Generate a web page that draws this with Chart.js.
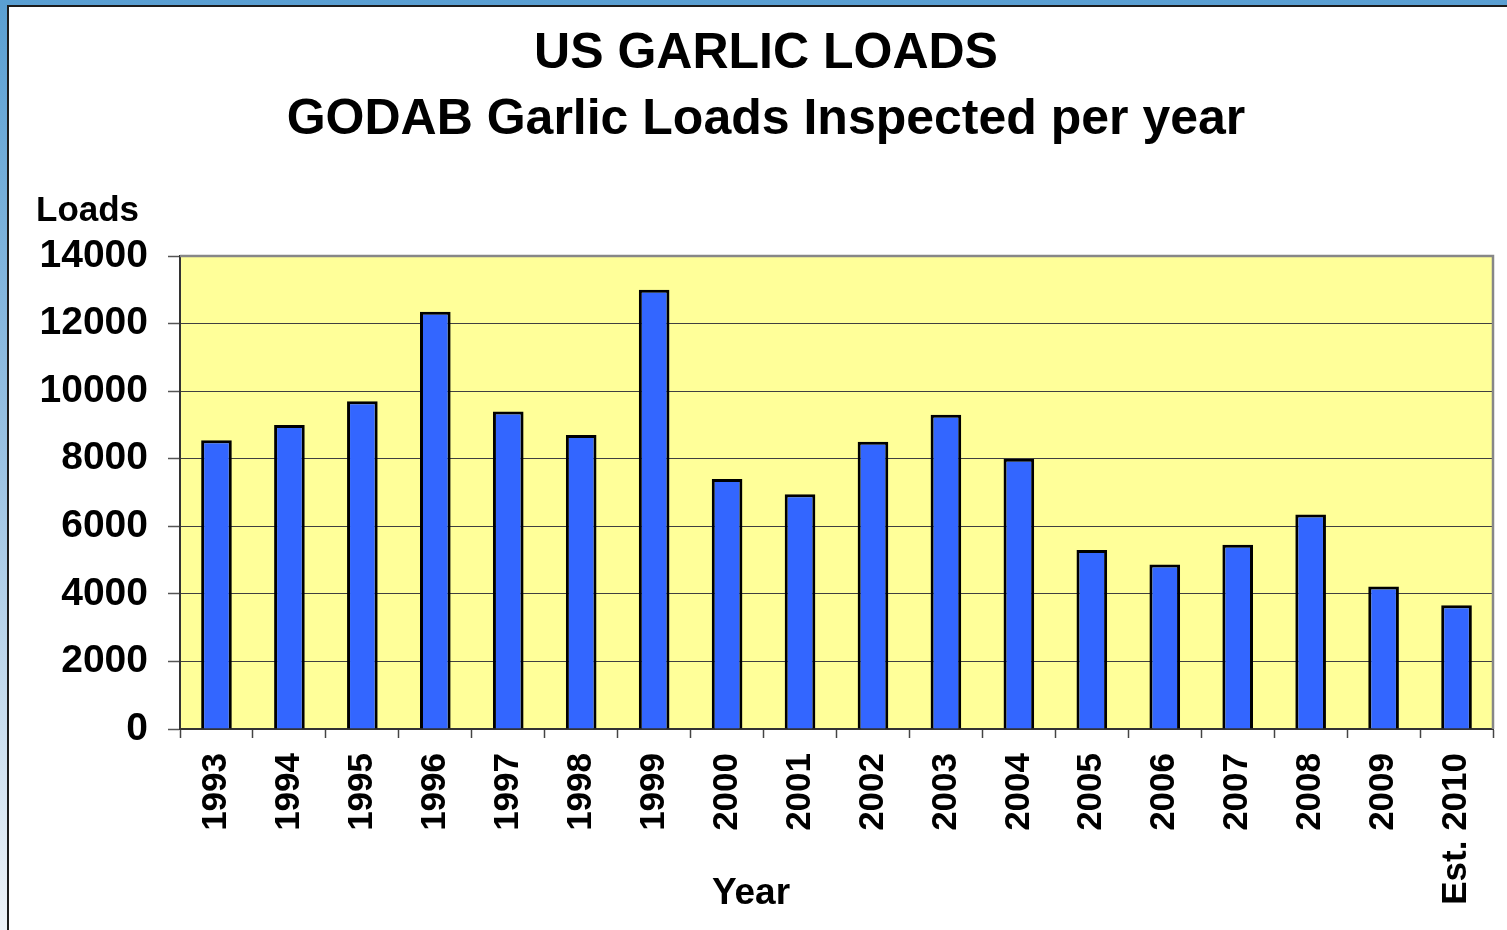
<!DOCTYPE html>
<html>
<head>
<meta charset="utf-8">
<title>US Garlic Loads</title>
<script src="https://cdn.jsdelivr.net/npm/chart.js@4.4.0/dist/chart.umd.min.js"></script>
<style>
  html, body { margin: 0; padding: 0; }
  body {
    width: 1507px; height: 930px; overflow: hidden; position: relative;
    background: linear-gradient(to bottom, #5a9fd2 0%, #9cc3e3 50%, #eef3f8 100%);
  }
  #frame {
    position: absolute; left: 7px; top: 5px; width: 1500px; height: 925px;
    background: #fff; border-left: 2px solid #1c1c1c; border-top: 2px solid #1c1c1c;
  }
  #wrap { position: absolute; left: 0; top: 0; width: 1498px; height: 923px; }
</style>
</head>
<body>
<div id="frame">
  <div id="wrap"><canvas id="chart"></canvas></div>
</div>
<script>
const years = ['1993', '1994', '1995', '1996', '1997', '1998', '1999', '2000', '2001',
               '2002', '2003', '2004', '2005', '2006', '2007', '2008', '2009', 'Est. 2010'];
const loads = [8550, 9000, 9700, 12350, 9400, 8700, 13000, 7400, 6950,
               8500, 9300, 8000, 5300, 4870, 5450, 6350, 4220, 3660];
const yTicks = [0, 2000, 4000, 6000, 8000, 10000, 12000, 14000];
const titleLines = ['US GARLIC LOADS', 'GODAB Garlic Loads Inspected per year'];
const yAxisLabel = 'Loads';
const xAxisLabel = 'Year';

const FONT = "'Liberation Sans', Arial, Helvetica, sans-serif";
Chart.defaults.font.family = FONT;
Chart.defaults.color = '#000';

// yellow plot area, grey frame on top/right, and the two axis captions
const plotFrame = {
  id: 'plotFrame',
  beforeDraw(chart) {
    const { ctx, chartArea: a } = chart;
    ctx.save();
    ctx.fillStyle = '#FFFF99';
    ctx.fillRect(a.left, a.top, a.width, a.height);
    ctx.restore();
  },
  afterDraw(chart) {
    const { ctx, chartArea: a } = chart;
    ctx.save();
    ctx.strokeStyle = '#878787';
    ctx.lineWidth = 2.5;
    ctx.beginPath();
    ctx.moveTo(a.left, a.top);
    ctx.lineTo(a.right, a.top);
    ctx.lineTo(a.right, a.bottom);
    ctx.stroke();

    ctx.fillStyle = '#000';
    ctx.font = 'bold 35px ' + FONT;
    ctx.textAlign = 'left';
    ctx.textBaseline = 'alphabetic';
    ctx.fillText(yAxisLabel, a.left - 144, a.top - 35);
    ctx.font = 'bold 37px ' + FONT;
    ctx.textAlign = 'center';
    ctx.textBaseline = 'middle';
    ctx.fillText(xAxisLabel, a.left + 571, a.bottom + 165);
    ctx.restore();
  }
};

new Chart(document.getElementById('chart'), {
  type: 'bar',
  data: {
    labels: years,
    datasets: [{
      label: 'Loads',
      data: loads,
      backgroundColor: '#3366FF',
      borderColor: '#000',
      borderWidth: 3,
      categoryPercentage: 1.0,
      barPercentage: 0.42
    }]
  },
  options: {
    responsive: true,
    maintainAspectRatio: false,
    animation: false,
    layout: { padding: { left: 30, right: 14, top: 0, bottom: 0 } },
    plugins: {
      legend: { display: false },
      tooltip: { enabled: false },
      title: {
        display: true,
        text: titleLines,
        color: '#000',
        font: { size: 50, weight: 'bold', lineHeight: 1.32 },
        padding: { top: 14, bottom: 103 }
      }
    },
    scales: {
      x: {
        afterFit(scale) {
          scale.height = 201;
          scale.paddingLeft = 0;
          scale.paddingRight = 0;
        },
        grid: {
          offset: true,
          drawOnChartArea: false,
          drawTicks: true,
          tickLength: 9,
          tickColor: '#444',
          tickWidth: 1.5
        },
        border: { display: true, color: '#333', width: 2 },
        ticks: {
          minRotation: 90,
          maxRotation: 90,
          autoSkip: false,
          padding: 15,
          color: '#000',
          font: { size: 35, weight: 'bold' }
        }
      },
      y: {
        min: 0,
        max: 14000,
        afterFit(scale) { scale.width = 141; },
        afterBuildTicks(scale) { scale.ticks = yTicks.map(v => ({ value: v })); },
        grid: {
          color: '#404040',
          lineWidth: 1,
          drawTicks: true,
          tickLength: 12,
          tickColor: '#555',
          tickWidth: 1.5
        },
        border: { display: true, color: '#333', width: 2 },
        ticks: {
          padding: 20,
          color: '#000',
          font: { size: 39, weight: 'bold' },
          callback: v => String(v)
        }
      }
    }
  },
  plugins: [plotFrame]
});
</script>
</body>
</html>
